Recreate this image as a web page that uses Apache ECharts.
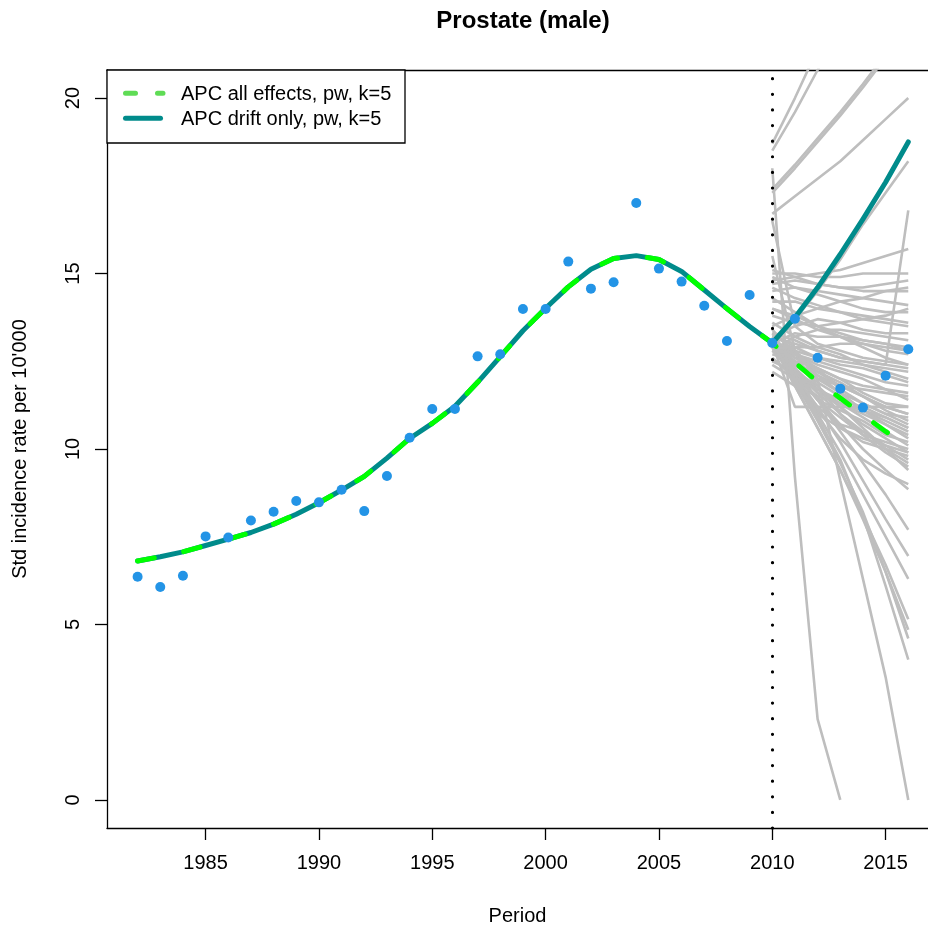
<!DOCTYPE html>
<html><head><meta charset="utf-8">
<script src="https://cdn.jsdelivr.net/npm/echarts@6/dist/echarts.min.js"></script>
<style>html,body{margin:0;padding:0;background:#fff}#c{width:928px;height:925px}</style>
</head><body><div id="c"></div>
<script>
// ---------- data ----------
const years = [1982,1983,1984,1985,1986,1987,1988,1989,1990,1991,1992,1993,1994,1995,1996,1997,1998,1999,2000,2001,2002,2003,2004,2005,2006,2007,2008,2009,2010,2011,2012,2013,2014,2015,2016];
const observed = [6.36,6.07,6.39,7.51,7.48,7.96,8.21,8.52,8.48,8.84,8.23,9.23,10.32,11.14,11.14,12.64,12.70,13.99,13.99,15.34,14.57,14.75,17.01,15.14,14.77,14.08,13.08,14.39,13.02,13.71,12.60,11.72,11.18,12.09,12.84];
const fitAllEffects = [6.81,6.93,7.07,7.25,7.43,7.62,7.86,8.14,8.47,8.83,9.22,9.74,10.30,10.73,11.22,11.90,12.63,13.37,14.01,14.62,15.12,15.43,15.51,15.40,15.06,14.53,14.00,13.49,13.02,12.46,11.92,11.45,10.97,10.50,10.07];
const fitDriftOnly = [6.81,6.93,7.07,7.25,7.43,7.62,7.86,8.14,8.47,8.83,9.22,9.74,10.30,10.73,11.22,11.90,12.63,13.37,14.01,14.62,15.12,15.43,15.51,15.40,15.06,14.53,14.00,13.49,13.02,13.75,14.60,15.55,16.55,17.60,18.75];
const projYears = [2010,2011,2012,2013,2014,2015,2016];
const projUpper = [
  [18.7,20.0,21.4,22.8,24.3,25.8,27.4],
  [18.5,19.6,20.8,22.0,23.3,24.6,26.0],
  [17.4,18.1,18.85,19.6,20.4,21.25,22.1],
  [17.3,18.0,18.75,19.5,20.3,21.15,22.0],
  [16.7,17.2,17.7,18.2,18.8,19.4,20.0],
  [13.0,13.7,14.5,15.4,16.4,17.3,18.2]
];
const projMain = [
  [14.8,14.9,15.0,15.1,15.3,15.5,15.7],
  [15.0,15.0,14.9,14.9,15.0,15.0,15.0],
  [14.7,14.8,14.7,14.6,14.6,14.7,14.8],
  [15.1,14.9,14.7,14.6,14.5,14.5,14.5],
  [14.5,14.6,14.5,14.4,14.3,14.2,14.1],
  [14.9,14.6,14.4,14.2,14.0,13.9,13.9],
  [13.5,13.8,14.0,14.2,14.3,14.5,14.6],
  [14.2,14.2,14.0,13.9,13.7,13.6,13.5],
  [13.8,13.6,13.5,13.6,13.7,13.8,14.0],
  [13.2,13.5,13.7,13.6,13.4,13.3,13.3],
  [13.0,13.3,13.2,13.2,13.1,13.0,12.9],
  [14.0,13.7,13.4,13.2,13.0,12.8,12.7],
  [13.0,12.9,12.9,13.0,13.0,12.9,12.8],
  [12.8,13.2,13.4,13.4,13.3,13.2,13.1],
  [13.3,13.1,12.8,12.6,12.5,12.4,12.3],
  [13.0,12.8,12.6,12.5,12.4,12.3,12.2],
  [13.6,13.2,12.9,12.7,12.4,12.2,12.0],
  [12.9,12.7,12.5,12.3,12.1,11.9,11.8],
  [13.0,12.6,12.3,12.0,11.8,11.7,11.6],
  [13.1,12.7,12.4,12.2,12.0,11.7,11.4],
  [12.7,12.5,12.3,12.0,11.6,11.3,11.2],
  [13.0,12.5,12.1,11.8,11.5,11.2,11.0],
  [13.2,12.6,12.2,11.9,11.5,11.1,10.8],
  [12.9,12.4,12.0,11.6,11.3,11.0,10.7],
  [13.0,12.4,11.9,11.5,11.1,10.8,10.5],
  [13.4,12.7,12.1,11.6,11.1,10.7,10.3],
  [12.8,12.2,11.7,11.3,10.9,10.5,10.1],
  [13.0,12.3,11.7,11.2,10.7,10.3,9.9],
  [13.1,12.3,11.6,11.0,10.5,10.1,9.7],
  [12.9,12.1,11.4,10.9,10.4,9.9,9.5],
  [13.0,11.2,11.2,11.2,11.2,11.2,11.2],
  [12.5,12.2,11.8,11.0,10.4,10.2,10.0],
  [12.6,12.0,11.5,10.6,10.2,10.0,9.8],
  [16.5,13.5,13.0,12.8,12.6,12.5,12.4],
  [15.5,12.8,12.2,11.8,11.5,11.2,11.0],
  [13.2,13.0,12.8,12.6,12.5,12.4,16.8],
  [13.0,12.2,11.6,11.3,11.1,10.9,10.6],
  [13.1,12.5,11.8,11.2,10.6,10.0,9.4],
  [12.9,12.0,11.2,10.7,10.5,10.0,9.6],
  [13.0,12.4,12.0,11.8,11.7,11.6,11.5],
  [13.3,12.9,12.6,12.4,12.3,12.1,11.9],
  [13.0,12.7,12.3,11.7,11.3,11.0,10.9],
  [14.3,13.9,13.5,13.2,12.9,12.6,12.4],
  [14.6,14.3,14.1,13.9,13.8,13.7,13.6],
  [12.4,12.0,11.7,11.4,11.2,10.9,10.6],
  [13.0,11.9,11.0,10.6,10.3,10.1,9.9],
  [12.2,11.8,11.5,11.3,11.0,10.7,10.4],
  [13.0,12.3,11.4,11.1,10.8,10.4,10.2],
  [14.0,13.8,13.5,13.3,13.1,13.0,12.8]
];
const projFalling = [
  [13.0,12.0,11.1,10.3,9.7,9.3,9.0],
  [13.0,12.2,11.4,10.7,10.0,9.4,8.85],
  [13.0,12.2,11.4,10.5,9.6,8.7,7.7],
  [13.0,12.1,11.2,10.2,9.1,8.0,6.95],
  [13.0,12.0,11.0,9.9,8.7,7.5,6.3],
  [13.0,11.8,10.6,9.4,8.1,6.7,5.15],
  [13.0,11.8,10.6,9.4,8.0,6.5,4.85],
  [13.0,11.9,10.8,9.6,8.2,6.5,4.6],
  [13.0,12.0,10.9,9.7,8.1,6.1,4.0],
  [13.3,12.8,12.0,9.1,6.3,3.5,0.0],
  [18.0,9.2,2.3,0.0,null,null,null]
];
const vLineYear = 2010;
const xTicks = [1985,1990,1995,2000,2005,2010,2015];
const yTicks = [0,5,10,15,20];
const legendNames = ['APC all effects, pw, k=5','APC drift only, pw, k=5'];

// ---------- chart ----------
const FONT = "'Liberation Sans', Arial, Helvetica, sans-serif";
const chart = echarts.init(document.getElementById('c'), null, {renderer:'canvas'});
const series = [];
[...projUpper, ...projMain, ...projFalling].forEach(p => {
  series.push({
    type:'line', silent:true, symbol:'none', z:1,
    data: projYears.map((y,i) => [y, p[i]]),
    lineStyle:{color:'#bebebe', width:2.6}
  });
});
series.push({
  name: legendNames[1], type:'line', symbol:'none', z:3,
  data: years.map((y,i) => [y, fitDriftOnly[i]]),
  lineStyle:{color:'#008b8b', width:5, cap:'round', join:'round'},
  markLine:{
    silent:true, symbol:'none', label:{show:false},
    lineStyle:{color:'#000', width:3.2, type:[0.01,15.6], cap:'round'},
    data:[{xAxis: vLineYear}]
  }
});
series.push({
  name: legendNames[0], type:'line', symbol:'none', z:4,
  data: years.map((y,i) => [y, fitAllEffects[i]]),
  lineStyle:{color:'#00ff00', width:5, type:[17,30], cap:'round', join:'round'}
});
series.push({
  type:'scatter', silent:true, z:5, symbolSize:10,
  data: years.map((y,i) => [y, observed[i]]),
  itemStyle:{color:'#2394e6', opacity:1}
});

const X0 = 1980.65, X1 = 2016.87;
chart.setOption({
  animation:false,
  backgroundColor:'#fff',
  textStyle:{fontFamily:FONT},
  grid:{left:107, top:70, right:0, bottom:97, show:false, containLabel:false, outerBoundsMode:'none'},
  xAxis:[{
    type:'value', min:X0, max:X1, position:'bottom',
    name:'Period', nameLocation:'middle', nameGap:78,
    nameTextStyle:{fontSize:20, color:'#000', fontFamily:FONT},
    axisLine:{show:true, onZero:false, lineStyle:{color:'#000', width:1.3}},
    axisTick:{show:true, length:12, lineStyle:{color:'#000', width:1.3}, customValues:xTicks},
    axisLabel:{fontSize:20, color:'#000', margin:25, fontFamily:FONT, customValues:xTicks, formatter:v => String(v)},
    splitLine:{show:false}
  },{
    type:'value', min:X0, max:X1, position:'top',
    axisLine:{show:true, onZero:false, lineStyle:{color:'#000', width:1.3}},
    axisTick:{show:false}, axisLabel:{show:false}, splitLine:{show:false}
  }],
  yAxis:{
    type:'value', min:-0.8, max:20.8,
    name:"Std incidence rate per 10'000", nameLocation:'middle', nameGap:77,
    nameTextStyle:{fontSize:20, color:'#000', fontFamily:FONT},
    axisLine:{show:true, onZero:false, lineStyle:{color:'#000', width:1.3}},
    axisTick:{show:true, length:12, lineStyle:{color:'#000', width:1.3}, customValues:yTicks},
    axisLabel:{fontSize:20, color:'#000', margin:24, rotate:90, fontFamily:FONT, customValues:yTicks, formatter:v => String(v)},
    splitLine:{show:false}
  },
  graphic:[
    {type:'text', x:523, y:21, z:10,
     style:{text:'Prostate (male)', font:"bold 24px "+FONT, fill:'#000', textAlign:'center', textVerticalAlign:'middle'}},
    // legend box
    {type:'rect', z:20, shape:{x:107, y:70, width:298, height:73},
     style:{fill:'#fff', stroke:'#000', lineWidth:1.3}},
    {type:'line', z:21, shape:{x1:125.5, y1:93.3, x2:163, y2:93.3},
     style:{stroke:'#5fdc55', lineWidth:5, lineCap:'round', lineDash:[10,22]}},
    {type:'line', z:21, shape:{x1:125.5, y1:118.3, x2:160.5, y2:118.3},
     style:{stroke:'#008b8b', lineWidth:5, lineCap:'round'}},
    {type:'text', z:21, x:181, y:94,
     style:{text:legendNames[0], font:"20px "+FONT, fill:'#000', textVerticalAlign:'middle'}},
    {type:'text', z:21, x:181, y:119,
     style:{text:legendNames[1], font:"20px "+FONT, fill:'#000', textVerticalAlign:'middle'}}
  ],
  series: series
});
</script></body></html>
